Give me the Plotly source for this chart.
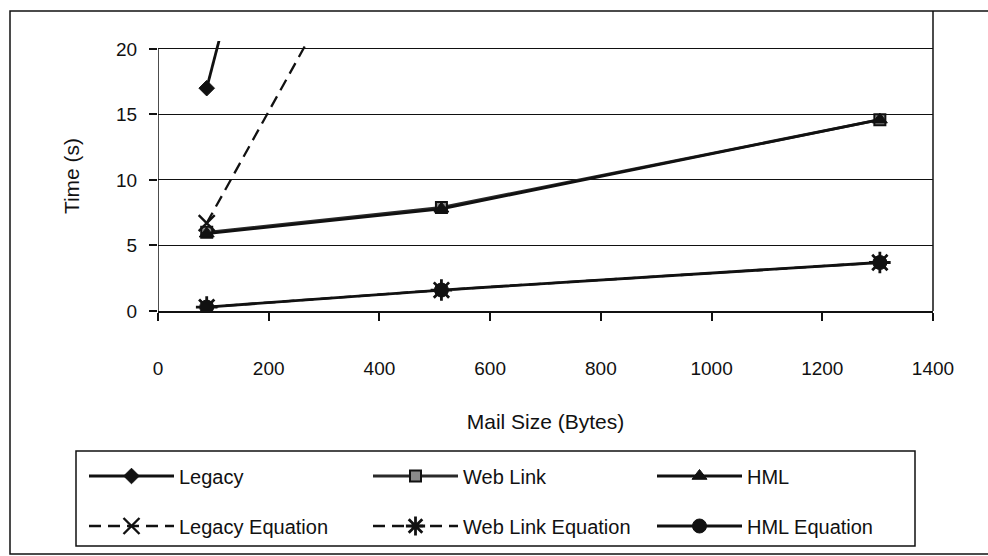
import plotly.graph_objects as go

# ---- data ----
mail_size = [88, 512, 1304]
legacy = [17.0, 87.0, 215.0]
web_link = [6.0, 7.9, 14.6]
hml = [5.9, 7.8, 14.6]
legacy_eq = [6.7, 39.0, 99.0]
web_link_eq = [0.3, 1.6, 3.7]
hml_eq = [0.3, 1.6, 3.7]

x_ticks = [0, 200, 400, 600, 800, 1000, 1200, 1400]
y_ticks = [0, 5, 10, 15, 20]

FONT = "Liberation Sans, Arial, sans-serif"
BLACK = "#111111"

fig = go.Figure()

def add(name, y, symbol, size, dash="solid", fill=BLACK, legend="legend",
        lw=2.8, mlw=1, color=BLACK):
    fig.add_trace(go.Scatter(
        x=mail_size, y=y, name=name, mode="lines+markers", legend=legend,
        line=dict(color=color, width=lw, dash=dash),
        marker=dict(symbol=symbol, size=size, color=fill,
                    line=dict(color=BLACK, width=mlw)),
        cliponaxis=True,
    ))

add("Legacy", legacy, "diamond", 12)
add("Web Link", web_link, "square", 11, fill="#8a8a8a", mlw=2, color="#2a2a2a")
add("HML", hml, "triangle-up", 13)
add("Legacy Equation", legacy_eq, "x-thin-open", 16, dash="12px,7px",
    legend="legend2", lw=2.3, mlw=2.4)
add("Web Link Equation", web_link_eq, "asterisk-open", 18, dash="12px,7px",
    legend="legend2", lw=2.3, mlw=2.8)
add("HML Equation", hml_eq, "circle", 14, legend="legend2")

W, H = 988, 556
L, R, T, B = 158, 55, 41, 245
pw, ph = W - L - R, H - T - B

def px(xp):
    return (xp - L) / pw

def py(yp):
    return (H - B - yp) / ph

legend_common = dict(
    orientation="h", xanchor="left", yanchor="middle",
    entrywidth=184, entrywidthmode="pixels", itemwidth=85,
    font=dict(family=FONT, size=20, color=BLACK),
    bgcolor="rgba(0,0,0,0)", borderwidth=0, traceorder="normal",
)

fig.update_layout(
    width=W, height=H,
    margin=dict(l=L, r=R, t=T, b=B, autoexpand=False),
    paper_bgcolor="white", plot_bgcolor="white",
    font=dict(family=FONT, color=BLACK, size=19),
    showlegend=True,
    legend=dict(x=px(84), y=py(476), **legend_common),
    legend2=dict(x=px(84), y=py(526), **legend_common),
    xaxis=dict(
        range=[0, 1400], tickvals=x_ticks, ticktext=[str(v) for v in x_ticks],
        showgrid=False, zeroline=False, showline=True, linecolor=BLACK,
        linewidth=1.5, ticks="outside", ticklen=8, tickwidth=1.5,
        tickcolor=BLACK, ticklabelstandoff=31,
        tickfont=dict(family=FONT, size=19, color=BLACK),
        title=dict(text="Mail Size (Bytes)", standoff=37,
                   font=dict(family=FONT, size=21, color=BLACK)),
        fixedrange=True,
    ),
    yaxis=dict(
        range=[0, 20.6], tickvals=y_ticks, ticktext=[str(v) for v in y_ticks],
        showgrid=True, gridcolor=BLACK, gridwidth=1.3, zeroline=False,
        showline=False, ticks="outside", ticklen=8, tickwidth=1.5,
        tickcolor=BLACK, ticklabelstandoff=8,
        tickfont=dict(family=FONT, size=19, color=BLACK),
        title=dict(text="Time (s)", standoff=30,
                   font=dict(family=FONT, size=21, color=BLACK)),
        fixedrange=True,
    ),
    shapes=[
        # y-axis line from 0 to 20
        dict(type="line", xref="x", yref="y", x0=0, x1=0, y0=0, y1=20,
             line=dict(color=BLACK, width=1.5), layer="above"),
        # right edge of plot area
        dict(type="line", xref="paper", yref="paper", x0=1, x1=1,
             y0=0, y1=py(11), line=dict(color=BLACK, width=1.5)),
        # outer chart border
        dict(type="rect", xref="paper", yref="paper", x0=px(10), x1=px(1000),
             y0=py(554), y1=py(11), line=dict(color=BLACK, width=1.5),
             layer="below"),
        # legend box
        dict(type="rect", xref="paper", yref="paper", x0=px(76), x1=px(915),
             y0=py(546), y1=py(451), line=dict(color=BLACK, width=1.5),
             layer="below"),
    ],
)

fig.write_html("out.html")
